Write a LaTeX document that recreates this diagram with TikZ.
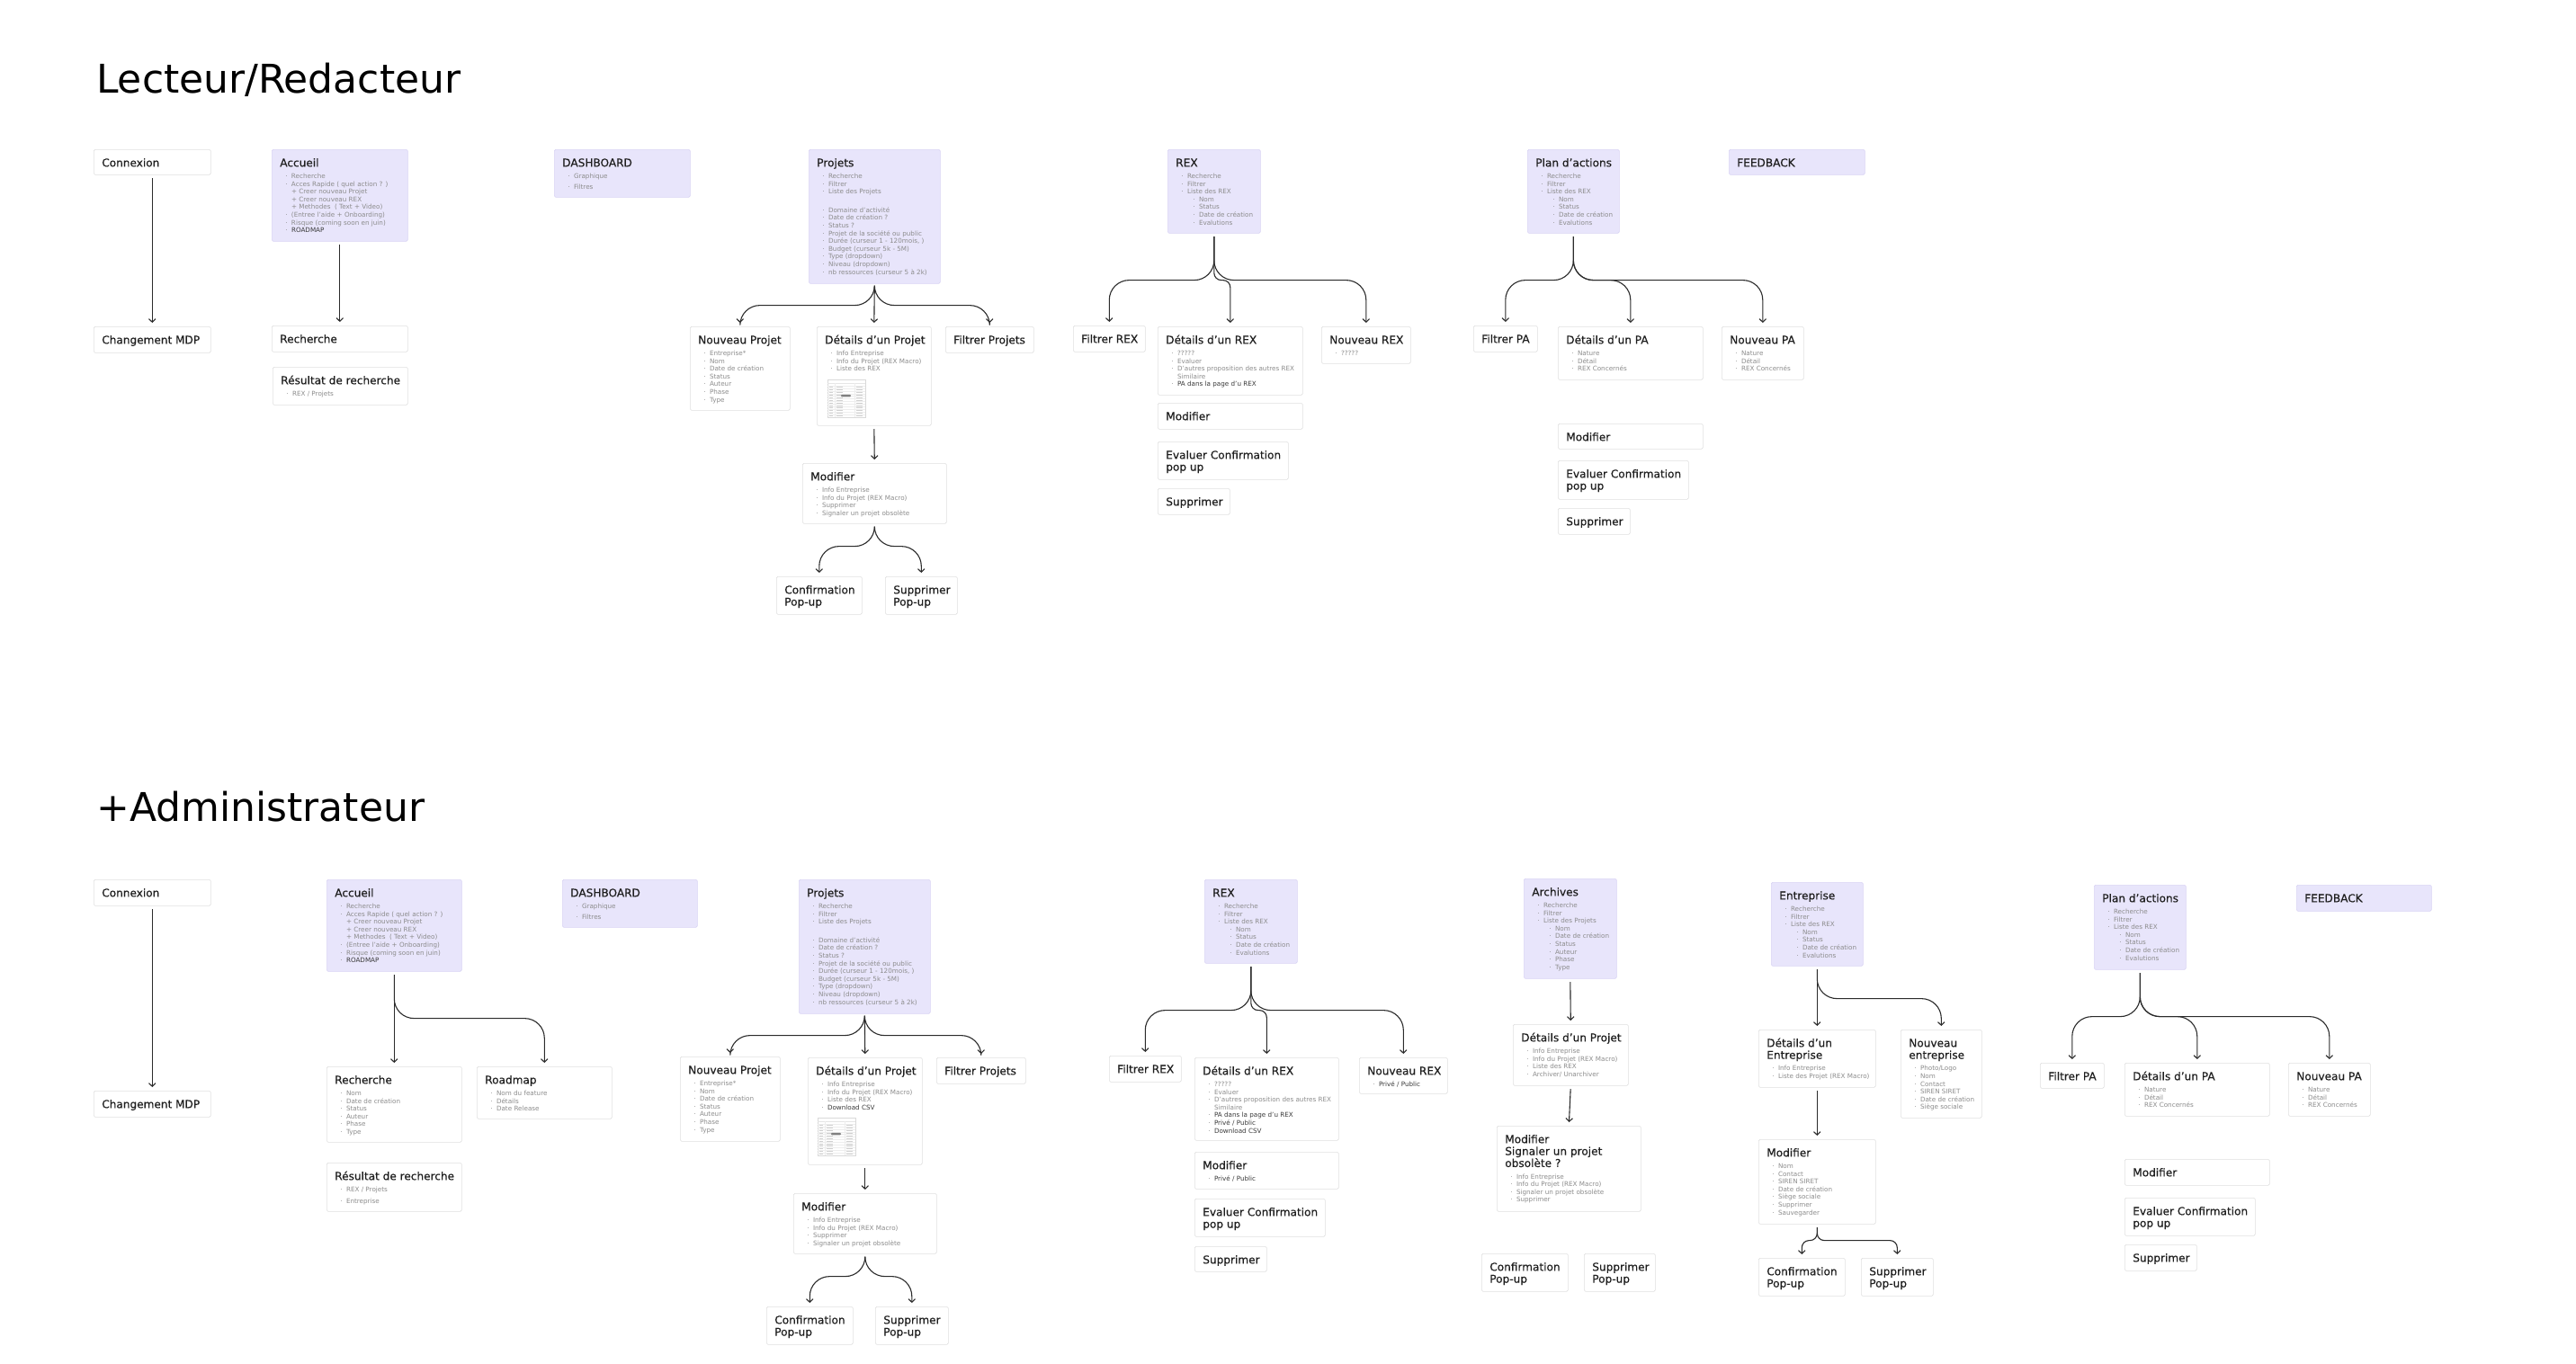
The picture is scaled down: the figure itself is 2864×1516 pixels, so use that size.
\documentclass[tikz,border=0pt]{standalone}
\usepackage{fontspec}
\setmainfont{DejaVu Sans}
\newfontfamily\cardhead[FakeBold=0.3]{DejaVu Sans}
\usepackage{xcolor}
\usepackage{tikz}
\usetikzlibrary{arrows.meta}

\definecolor{lav}{HTML}{E8E5FB}
\definecolor{lavline}{HTML}{D9D4F4}
\definecolor{cardline}{HTML}{E0E0E0}
\definecolor{ink}{HTML}{1E1E1E}
\definecolor{txt}{HTML}{8C8C8C}
\definecolor{dark}{HTML}{3A3A3A}
\definecolor{arrowc}{HTML}{2B2B2B}

\newcommand{\card}[3]{\parbox[t][#2pt][t]{#1pt}{\raggedright\leftskip=9pt\relax #3}}
\newcommand{\hd}[1]{{\cardhead\fontsize{12.1}{13.3}\selectfont\rule{0pt}{19pt}\textcolor{ink}{#1}\par}}
\newcommand{\bd}{\par\vspace{4.6pt}\fontsize{7.2}{8.6}\selectfont}
\newcommand{\itm}[1]{\par\hspace*{6pt}\textcolor{txt}{\makebox[6.7pt][l]{\textperiodcentered}#1}}
\newcommand{\ditm}[1]{\par\hspace*{6pt}\textcolor{txt}{\makebox[6.7pt][l]{\textperiodcentered}}\textcolor{dark}{#1}}
\newcommand{\sitm}[1]{\par\hspace*{19pt}\textcolor{txt}{\makebox[6.7pt][l]{\textperiodcentered}#1}}
\newcommand{\pitm}[1]{\par\hspace*{12.7pt}\textcolor{txt}{#1}}

\begin{document}
\begin{tikzpicture}[x=1pt,y=-1pt,>={Straight Barb[length=3.6pt,width=7.5pt]},
  card/.style={draw=cardline,fill=white,line width=0.6pt,rounded corners=1.5pt,inner sep=0pt,anchor=north west},
  lcard/.style={card,draw=lavline,fill=lav},
  flow/.style={->,draw=arrowc,line width=1.1pt,shorten <=3.5pt,shorten >=4pt},
  branch/.style={flow,rounded corners=22pt},
  jog/.style={flow,rounded corners=8pt},
  heading/.style={anchor=base west,inner sep=0pt,font=\fontsize{44}{50}\selectfont},
  thumb/.pic={
    \draw[black!15,line width=0.3pt,fill=white] (0,0) rectangle (42,42);
    \draw[black!10,line width=0.3pt] (0,4) -- (42,4);
    \foreach \k in {1,...,12} \draw[black!7,line width=0.2pt] (0,{4+2.9*\k}) -- (42,{4+2.9*\k});
    \draw[black!7,line width=0.2pt] (8,4) -- (8,42) (30,4) -- (30,42);
    \foreach \k in {1,...,12} \draw[black!18,line width=0.4pt] (2,{5.5+2.9*\k}) -- (6,{5.5+2.9*\k}) (10,{5.5+2.9*\k}) -- (17,{5.5+2.9*\k}) (32,{5.5+2.9*\k}) -- (39,{5.5+2.9*\k});
    \fill[black!50,rounded corners=1pt] (15,16.8) rectangle (26,19.4);
  }]
  \useasboundingbox (0,0) rectangle (2864,1516);
  \fill[white] (0,0) rectangle (2864,1516);

  \node[heading] (t1) at (107,103) {Lecteur/Redacteur};
  \node[card] (c1) at (104,166) {\card{130}{28}{\hd{Connexion}}};
  \node[card] (m1) at (104,363) {\card{130}{29}{\hd{Changement MDP}}};
  \node[lcard] (a1) at (302,166) {\card{151}{102}{\hd{Accueil}\bd\itm{Recherche}\itm{Acces Rapide ( quel action ? )}\pitm{+ Creer nouveau Projet}\pitm{+ Creer nouveau REX}\pitm{+ Methodes ~( Text + Video)}\itm{(Entree l’aide + Onboarding)}\itm{Risque (coming soon en juin)}\ditm{ROADMAP}}};
  \node[card] (r1) at (302,362) {\card{151}{29}{\hd{Recherche}}};
  \node[card] (rr1) at (303,408) {\card{150}{42}{\hd{Résultat de recherche}\bd\itm{REX / Projets}}};
  \node[lcard] (d1) at (616,166) {\card{151}{53}{\hd{DASHBOARD}\bd\itm{Graphique}\par\vspace{3.5pt}\itm{Filtres}}};
  \node[lcard] (p1) at (899,166) {\card{146}{149}{\hd{Projets}\bd\itm{Recherche}\itm{Filtrer}\itm{Liste des Projets}\par\vspace{12pt}\itm{Domaine d’activité}\itm{Date de création ?}\itm{Status ?}\itm{Projet de la société ou public}\itm{Durée (curseur 1 - 120mois, )}\itm{Budget (curseur 5k - 5M)}\itm{Type (dropdown)}\itm{Niveau (dropdown)}\itm{nb ressources (curseur 5 à 2k)}}};
  \node[card] (np1) at (767,363) {\card{111}{93}{\hd{Nouveau Projet}\bd\itm{Entreprise*}\itm{Nom}\itm{Date de création}\itm{Status}\itm{Auteur}\itm{Phase}\itm{Type}}};
  \node[card] (dp1) at (908,363) {\card{127}{110}{\hd{Détails d’un Projet}\bd\itm{Info Entreprise}\itm{Info du Projet (REX Macro)}\itm{Liste des REX}}};
  \pic at (920,422) {thumb};
  \node[card] (fp1) at (1051,363) {\card{98}{29}{\hd{Filtrer Projets}}};
  \node[card] (mo1) at (892,515) {\card{160}{67}{\hd{Modifier}\bd\itm{Info Entreprise}\itm{Info du Projet (REX Macro)}\itm{Supprimer}\itm{Signaler un projet obsolète}}};
  \node[card] (cp1) at (863,641) {\card{95}{42}{\hd{Confirmation\newline Pop-up}}};
  \node[card] (sp1) at (984,641) {\card{80}{42}{\hd{Supprimer\newline Pop-up}}};
  \node[lcard] (x1) at (1298,166) {\card{103}{93}{\hd{REX}\bd\itm{Recherche}\itm{Filtrer}\itm{Liste des REX}\sitm{Nom}\sitm{Status}\sitm{Date de création}\sitm{Evalutions}}};
  \node[card] (fx1) at (1193,362) {\card{80}{29}{\hd{Filtrer REX}}};
  \node[card] (dx1) at (1287,363) {\card{161}{76}{\hd{Détails d’un REX}\bd\itm{?????}\itm{Evaluer}\itm{D’autres proposition des autres REX}\pitm{Similaire}\ditm{PA dans la page d’u REX}}};
  \node[card] (nx1) at (1469,363) {\card{99}{41}{\hd{Nouveau REX}\bd\itm{?????}}};
  \node[card] (mx1) at (1287,448) {\card{161}{29}{\hd{Modifier}}};
  \node[card] (ex1) at (1287,491) {\card{145}{42}{\hd{Evaluer Confirmation\newline pop up}}};
  \node[card] (sx1) at (1287,543) {\card{80}{29}{\hd{Supprimer}}};
  \node[lcard] (pa1) at (1698,166) {\card{102}{93}{\hd{Plan d’actions}\bd\itm{Recherche}\itm{Filtrer}\itm{Liste des REX}\sitm{Nom}\sitm{Status}\sitm{Date de création}\sitm{Evalutions}}};
  \node[lcard] (fb1) at (1922,166) {\card{151}{28}{\hd{FEEDBACK}}};
  \node[card] (fa1) at (1638,362) {\card{71}{29}{\hd{Filtrer PA}}};
  \node[card] (da1) at (1732,363) {\card{161}{59}{\hd{Détails d’un PA}\bd\itm{Nature}\itm{Détail}\itm{REX Concernés}}};
  \node[card] (na1) at (1914,363) {\card{91}{59}{\hd{Nouveau PA}\bd\itm{Nature}\itm{Détail}\itm{REX Concernés}}};
  \node[card] (ma1) at (1732,471) {\card{161}{28}{\hd{Modifier}}};
  \node[card] (ea1) at (1732,512) {\card{145}{43}{\hd{Evaluer Confirmation\newline pop up}}};
  \node[card] (sa1) at (1732,565) {\card{80}{29}{\hd{Supprimer}}};

  \draw[flow] (c1.south) -- (m1.north);
  \draw[flow] (a1.south) -- (r1.north);
  \draw[branch] (p1.south) -- ++(0,24) -| (np1.north);
  \draw[flow] (p1.south) -- (dp1.north);
  \draw[branch] (p1.south) -- ++(0,24) -| (fp1.north);
  \draw[flow] (dp1.south) -- (mo1.north);
  \draw[branch] (mo1.south) -- ++(0,25) -| (cp1.north);
  \draw[branch] (mo1.south) -- ++(0,25) -| (sp1.north);
  \draw[branch] (x1.south) -- ++(0,52) -| (fx1.north);
  \draw[jog] (x1.south) -- ++(0,52) -| (dx1.north);
  \draw[branch] (x1.south) -- ++(0,52) -| (nx1.north);
  \draw[branch] (pa1.south) -- ++(0,52) -| (fa1.north);
  \draw[branch] (pa1.south) -- ++(0,52) -| (da1.north);
  \draw[branch] (pa1.south) -- ++(0,52) -| (na1.north);

  \node[heading] (t2) at (107,913) {+Administrateur};
  \node[card] (c2) at (104,978) {\card{130}{29}{\hd{Connexion}}};
  \node[card] (m2) at (104,1213) {\card{130}{29}{\hd{Changement MDP}}};
  \node[lcard] (a2) at (363,978) {\card{150}{102}{\hd{Accueil}\bd\itm{Recherche}\itm{Acces Rapide ( quel action ? )}\pitm{+ Creer nouveau Projet}\pitm{+ Creer nouveau REX}\pitm{+ Methodes ~( Text + Video)}\itm{(Entree l’aide + Onboarding)}\itm{Risque (coming soon en juin)}\ditm{ROADMAP}}};
  \node[lcard] (d2) at (625,978) {\card{150}{53}{\hd{DASHBOARD}\bd\itm{Graphique}\par\vspace{3.5pt}\itm{Filtres}}};
  \node[card] (r2) at (363,1186) {\card{150}{84}{\hd{Recherche}\bd\itm{Nom}\itm{Date de création}\itm{Status}\itm{Auteur}\itm{Phase}\itm{Type}}};
  \node[card] (rm2) at (530,1186) {\card{150}{58}{\hd{Roadmap}\bd\itm{Nom du feature}\itm{Détails}\itm{Date Release}}};
  \node[card] (rr2) at (363,1293) {\card{150}{54}{\hd{Résultat de recherche}\bd\itm{REX / Projets}\par\vspace{4pt}\itm{Entreprise}}};
  \node[lcard] (p2) at (888,978) {\card{146}{149}{\hd{Projets}\bd\itm{Recherche}\itm{Filtrer}\itm{Liste des Projets}\par\vspace{12pt}\itm{Domaine d’activité}\itm{Date de création ?}\itm{Status ?}\itm{Projet de la société ou public}\itm{Durée (curseur 1 - 120mois, )}\itm{Budget (curseur 5k - 5M)}\itm{Type (dropdown)}\itm{Niveau (dropdown)}\itm{nb ressources (curseur 5 à 2k)}}};
  \node[card] (np2) at (756,1175) {\card{111}{94}{\hd{Nouveau Projet}\bd\itm{Entreprise*}\itm{Nom}\itm{Date de création}\itm{Status}\itm{Auteur}\itm{Phase}\itm{Type}}};
  \node[card] (dp2) at (898,1176) {\card{127}{119}{\hd{Détails d’un Projet}\bd\itm{Info Entreprise}\itm{Info du Projet (REX Macro)}\itm{Liste des REX}\ditm{Download CSV}}};
  \pic at (909,1243) {thumb};
  \node[card] (fp2) at (1041,1176) {\card{99}{29}{\hd{Filtrer Projets}}};
  \node[card] (mo2) at (882,1327) {\card{159}{67}{\hd{Modifier}\bd\itm{Info Entreprise}\itm{Info du Projet (REX Macro)}\itm{Supprimer}\itm{Signaler un projet obsolète}}};
  \node[card] (cp2) at (852,1453) {\card{96}{42}{\hd{Confirmation\newline Pop-up}}};
  \node[card] (sp2) at (973,1453) {\card{81}{42}{\hd{Supprimer\newline Pop-up}}};
  \node[lcard] (x2) at (1339,978) {\card{103}{93}{\hd{REX}\bd\itm{Recherche}\itm{Filtrer}\itm{Liste des REX}\sitm{Nom}\sitm{Status}\sitm{Date de création}\sitm{Evalutions}}};
  \node[card] (fx2) at (1233,1174) {\card{80}{29}{\hd{Filtrer REX}}};
  \node[card] (dx2) at (1328,1176) {\card{160}{92}{\hd{Détails d’un REX}\bd\itm{?????}\itm{Evaluer}\itm{D’autres proposition des autres REX}\pitm{Similaire}\ditm{PA dans la page d’u REX}\ditm{Privé / Public}\ditm{Download CSV}}};
  \node[card] (nx2) at (1511,1176) {\card{98}{40}{\hd{Nouveau REX}\bd\ditm{Privé / Public}}};
  \node[card] (mx2) at (1328,1281) {\card{160}{41}{\hd{Modifier}\bd\ditm{Privé / Public}}};
  \node[card] (ex2) at (1328,1333) {\card{145}{42}{\hd{Evaluer Confirmation\newline pop up}}};
  \node[card] (sx2) at (1328,1386) {\card{80}{28}{\hd{Supprimer}}};
  \node[lcard] (ar2) at (1694,977) {\card{103}{111}{\hd{Archives}\bd\itm{Recherche}\itm{Filtrer}\itm{Liste des Projets}\sitm{Nom}\sitm{Date de création}\sitm{Status}\sitm{Auteur}\sitm{Phase}\sitm{Type}}};
  \node[card] (dpa2) at (1682,1139) {\card{128}{68}{\hd{Détails d’un Projet}\bd\itm{Info Entreprise}\itm{Info du Projet (REX Macro)}\itm{Liste des REX}\itm{Archiver/ Unarchiver}}};
  \node[card] (moa2) at (1664,1252) {\card{160}{95}{\hd{Modifier\newline Signaler un projet\newline obsolète ?}\bd\itm{Info Entreprise}\itm{Info du Projet (REX Macro)}\itm{Signaler un projet obsolète}\itm{Supprimer}}};
  \node[card] (cpa2) at (1647,1394) {\card{96}{42}{\hd{Confirmation\newline Pop-up}}};
  \node[card] (spa2) at (1761,1394) {\card{79}{42}{\hd{Supprimer\newline Pop-up}}};
  \node[lcard] (en2) at (1969,981) {\card{102}{93}{\hd{Entreprise}\bd\itm{Recherche}\itm{Filtrer}\itm{Liste des REX}\sitm{Nom}\sitm{Status}\sitm{Date de création}\sitm{Evalutions}}};
  \node[card] (de2) at (1955,1145) {\card{130}{64}{\hd{Détails d’un\newline Entreprise}\bd\itm{Info Entreprise}\itm{Liste des Projet (REX Macro)}}};
  \node[card] (ne2) at (2113,1145) {\card{90}{98}{\hd{Nouveau\newline entreprise}\bd\itm{Photo/Logo}\itm{Nom}\itm{Contact}\itm{SIREN SIRET}\itm{Date de création}\itm{Siège sociale}}};
  \node[card] (me2) at (1955,1267) {\card{130}{94}{\hd{Modifier}\bd\itm{Nom}\itm{Contact}\itm{SIREN SIRET}\itm{Date de création}\itm{Siège sociale}\itm{Supprimer}\itm{Sauvegarder}}};
  \node[card] (ce2) at (1955,1399) {\card{96}{42}{\hd{Confirmation\newline Pop-up}}};
  \node[card] (se2) at (2069,1399) {\card{80}{42}{\hd{Supprimer\newline Pop-up}}};
  \node[lcard] (pa2) at (2328,984) {\card{102}{94}{\hd{Plan d’actions}\bd\itm{Recherche}\itm{Filtrer}\itm{Liste des REX}\sitm{Nom}\sitm{Status}\sitm{Date de création}\sitm{Evalutions}}};
  \node[lcard] (fb2) at (2553,984) {\card{150}{29}{\hd{FEEDBACK}}};
  \node[card] (fa2) at (2268,1182) {\card{71}{28}{\hd{Filtrer PA}}};
  \node[card] (da2) at (2362,1182) {\card{161}{59}{\hd{Détails d’un PA}\bd\itm{Nature}\itm{Détail}\itm{REX Concernés}}};
  \node[card] (na2) at (2544,1182) {\card{91}{59}{\hd{Nouveau PA}\bd\itm{Nature}\itm{Détail}\itm{REX Concernés}}};
  \node[card] (ma2) at (2362,1289) {\card{161}{29}{\hd{Modifier}}};
  \node[card] (ea2) at (2362,1332) {\card{145}{42}{\hd{Evaluer Confirmation\newline pop up}}};
  \node[card] (sa2) at (2362,1384) {\card{80}{29}{\hd{Supprimer}}};

  \draw[flow] (c2.south) -- (m2.north);
  \draw[flow] (a2.south) -- (r2.north);
  \draw[branch] (a2.south) -- ++(0,52) -| (rm2.north);
  \draw[branch] (p2.south) -- ++(0,24) -| (np2.north);
  \draw[flow] (p2.south) -- (dp2.north);
  \draw[branch] (p2.south) -- ++(0,24) -| (fp2.north);
  \draw[flow] (dp2.south) -- (mo2.north);
  \draw[branch] (mo2.south) -- ++(0,25) -| (cp2.north);
  \draw[branch] (mo2.south) -- ++(0,25) -| (sp2.north);
  \draw[branch] (x2.south) -- ++(0,52) -| (fx2.north);
  \draw[jog] (x2.south) -- ++(0,52) -| (dx2.north);
  \draw[branch] (x2.south) -- ++(0,52) -| (nx2.north);
  \draw[flow] (ar2.south) -- (dpa2.north);
  \draw[flow] (dpa2.south) -- (moa2.north);
  \draw[flow] (en2.south) -- (de2.north);
  \draw[branch] (en2.south) -- ++(0,36) -| (ne2.north);
  \draw[flow] (de2.south) -- (me2.north);
  \draw[jog] (me2.south) -- ++(0,18) -| (ce2.north);
  \draw[jog] (me2.south) -- ++(0,18) -| (se2.north);
  \draw[branch] (pa2.south) -- ++(0,52) -| (fa2.north);
  \draw[branch] (pa2.south) -- ++(0,52) -| (da2.north);
  \draw[branch] (pa2.south) -- ++(0,52) -| (na2.north);
\end{tikzpicture}
\end{document}
